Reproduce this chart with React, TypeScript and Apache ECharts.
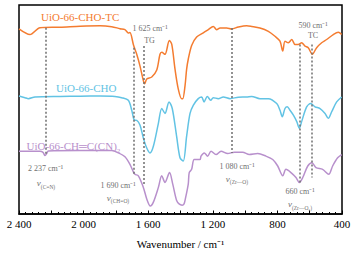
import React, { useEffect, useRef } from "react";
import * as echarts from "echarts";

// Wavenumber (cm-1) and relative transmittance (arbitrary units)
const tcWn = [2400, 2332, 2270, 2146, 2022, 1898, 1826, 1775, 1744, 1723, 1713, 1692, 1682, 1671, 1651, 1630, 1622, 1609, 1578, 1547, 1527, 1516, 1496, 1469, 1454, 1434, 1414, 1393, 1386, 1372, 1362, 1352, 1331, 1300, 1259, 1228, 1197, 1176, 1155, 1114, 1083, 1042, 990, 959, 908, 856, 815, 784, 767, 753, 732, 711, 691, 671, 650, 629, 609, 584, 557, 526, 495, 454, 423, 402];
const tcVal = [187.7, 182, 189, 189.5, 190.5, 191, 190, 188, 187, 183.7, 184, 172, 167, 162, 150.3, 135.3, 132, 137, 139, 146, 162, 164, 162, 176, 172, 147, 127, 117, 117, 130, 147, 157, 171, 179.5, 183.7, 187, 190.3, 187, 188.7, 188.7, 187.7, 189.7, 191, 190.3, 188.7, 185.3, 180.3, 175.3, 165.3, 175.3, 173.7, 177, 172, 172, 173.7, 170.3, 168.7, 162, 168.7, 173.7, 177, 182, 184.3, 182];

const choWn = [2400, 2363, 2342, 2301, 2146, 2022, 1898, 1806, 1764, 1723, 1702, 1686, 1671, 1651, 1630, 1609, 1589, 1568, 1537, 1516, 1496, 1471, 1451, 1424, 1403, 1383, 1362, 1341, 1321, 1290, 1269, 1254, 1234, 1213, 1197, 1166, 1135, 1093, 1042, 990, 959, 908, 856, 804, 784, 770, 753, 739, 722, 701, 680, 664, 650, 619, 594, 567, 536, 505, 485, 464, 433, 402];
const choVal = [119.7, 118, 117, 118.7, 119.3, 119.5, 119.7, 119.3, 118, 115.3, 105.3, 95.3, 95, 90.3, 77, 67, 62, 68.7, 92, 107, 102, 113.7, 107, 78.7, 57, 53.7, 79, 102, 110.3, 117, 118.7, 113.7, 119.3, 115.3, 118, 117, 118.7, 117, 118.5, 118.7, 119.3, 117, 117, 112, 105.3, 98.7, 107, 108.7, 105.3, 100.3, 93.7, 87, 93.7, 108.7, 112, 108.7, 107, 102, 97, 103.7, 113.7, 118.7];

const cnWn = [2400, 2270, 2251, 2239, 2226, 2219, 2022, 1826, 1785, 1744, 1713, 1692, 1682, 1661, 1630, 1609, 1587, 1568, 1537, 1516, 1496, 1468, 1448, 1424, 1407, 1390, 1378, 1370, 1352, 1346, 1331, 1315, 1279, 1273, 1253, 1232, 1211, 1180, 1149, 1108, 1067, 1015, 974, 922, 871, 829, 798, 767, 747, 716, 685, 664, 643, 612, 586, 561, 520, 482, 458, 427, 402];
const cnVal = [63.7, 63.7, 62.5, 59.3, 62, 64, 64.5, 64.3, 62, 58, 50.3, 42.7, 40.3, 38.7, 27, 15.3, 8, 12, 27, 38.7, 32, 42, 30.3, 13.7, 10, 9, 10.3, 15.3, 30.3, 42, 45.3, 55.3, 55.3, 58.7, 62, 58.7, 63.7, 60.3, 63.7, 61.3, 62.7, 62.7, 60.3, 61.3, 58.7, 55.3, 48.7, 38.7, 45.3, 42, 37, 32, 37, 48.7, 52, 47, 45.3, 40.3, 48.7, 57, 60.3];

// Marked bands: wavenumber, top and bottom of the dotted guide
const guideWn = [2237, 1690, 1625, 1080, 660, 590];
const guideTop = [189, 168.7, 170.5, 188.7, 172, 172];
const guideBottom = [59, 40.3, 29, 62, 32, 37];

const xTickLabels = [400, 800, 1200, 1600, 2000, 2400];

const SERIF = "'Liberation Serif', 'Times New Roman', serif";
const ORANGE = "#f47c30";
const BLUE = "#62c3e4";
const PURPLE = "#b890cc";
const GRAY = "#6f6f6f";

const fmt = (v: number) => {
  const s = String(Math.round(v));
  return s.length > 3 ? s.slice(0, s.length - 3) + " " + s.slice(-3) : s;
};

const pairs = (xs: number[], ys: number[]) => xs.map((x, i) => [x, ys[i]]);

export default function App() {
  const ref = useRef<HTMLDivElement>(null);
  useEffect(() => {
    if (!ref.current) return;
    const chart = echarts.init(ref.current, null, { renderer: "svg" });

    const gtext = (text: string, x: number, y: number, size: number, color: string, align = "center", extra: any = {}) => ({
      type: "text",
      x,
      y,
      style: {
        text,
        fontFamily: SERIF,
        fontSize: size,
        fill: color,
        align,
        verticalAlign: "middle",
        ...extra,
      },
    });
    const nu = (sub: string, x: number, y: number) => ({
      type: "text",
      x,
      y,
      style: {
        text: "{a|ν}{b|" + sub + "}",
        fontFamily: SERIF,
        fill: GRAY,
        align: "center",
        verticalAlign: "middle",
        rich: {
          a: { fontSize: 9, fontStyle: "italic", fontFamily: SERIF, fill: GRAY, verticalAlign: "bottom" },
          b: { fontSize: 5.5, fontFamily: SERIF, fill: GRAY, verticalAlign: "bottom", padding: [0, 0, -2, 0] },
        },
      },
    });

    const option: any = {
      animation: false,
      grid: {
        left: 19,
        right: 14,
        top: 5,
        bottom: 37,
        show: true,
        borderColor: "#000",
        borderWidth: 1.5,
      },
      xAxis: {
        type: "value",
        min: 400,
        max: 2400,
        interval: 200,
        inverse: true,
        name: "Wavenumber / cm⁻¹",
        nameLocation: "middle",
        nameGap: 24,
        nameTextStyle: { fontFamily: SERIF, fontSize: 11, color: "#000" },
        axisLine: { show: true, lineStyle: { color: "#000", width: 1.5 } },
        axisTick: { show: true, inside: true, length: 3.5, lineStyle: { color: "#000", width: 1 } },
        minorTick: { show: true, splitNumber: 5, length: 2, lineStyle: { color: "#000", width: 1 } },
        splitLine: { show: false },
        axisLabel: {
          margin: 4,
          fontFamily: SERIF,
          fontSize: 11,
          color: "#000",
          formatter: (v: number) => (xTickLabels.includes(v) ? fmt(v) : ""),
        },
      },
      yAxis: {
        type: "value",
        min: 0,
        max: 212,
        show: false,
      },
      series: [
        {
          type: "line",
          data: pairs(tcWn, tcVal),
          showSymbol: false,
          smooth: 0.3,
          lineStyle: { color: ORANGE, width: 1.5 },
          z: 3,
        },
        {
          type: "line",
          data: pairs(choWn, choVal),
          showSymbol: false,
          smooth: 0.3,
          lineStyle: { color: BLUE, width: 1.5 },
          z: 3,
        },
        {
          type: "line",
          data: pairs(cnWn, cnVal),
          showSymbol: false,
          smooth: 0.3,
          lineStyle: { color: PURPLE, width: 1.5 },
          z: 3,
          markLine: {
            silent: true,
            symbol: "none",
            label: { show: false },
            lineStyle: { color: GRAY, width: 1.5, type: [2, 2] },
            data: guideWn.map((w, i) => [
              { coord: [w, guideTop[i]] },
              { coord: [w, guideBottom[i]] },
            ]),
          },
        },
      ],
      graphic: [
        gtext("UiO-66-CHO-TC", 41, 16.7, 11, ORANGE, "left"),
        gtext("UiO-66-CHO", 56, 88, 11, BLUE, "left"),
        {
          type: "text",
          x: 26.5,
          y: 146,
          style: {
            text: "{a|UiO-66-CH═C(CN)}{b|2}",
            fontFamily: SERIF,
            fill: PURPLE,
            align: "left",
            verticalAlign: "middle",
            rich: {
              a: { fontSize: 11, fontFamily: SERIF, fill: PURPLE, verticalAlign: "bottom" },
              b: { fontSize: 7, fontFamily: SERIF, fill: PURPLE, verticalAlign: "bottom", padding: [0, 0, -3, 0] },
            },
          },
        },
        gtext("1 625 cm⁻¹", 150, 28.5, 8, GRAY),
        gtext("TG", 149.5, 40, 8, GRAY),
        gtext("590 cm⁻¹", 313, 25, 8, GRAY),
        gtext("TC", 313, 35.5, 8, GRAY),
        gtext("2 237 cm⁻¹", 45.5, 168, 8, GRAY),
        nu("(C≡N)", 46, 183),
        gtext("1 690 cm⁻¹", 118, 185.5, 8, GRAY),
        nu("(CH=O)", 118, 197.5),
        gtext("1 080 cm⁻¹", 237, 166.5, 8, GRAY),
        nu("(Zr—O)", 237, 178.5),
        gtext("660 cm⁻¹", 300, 191, 8, GRAY),
        nu("(Zr—O₂)", 300, 204),
      ],
    };
    chart.setOption(option);
    return () => chart.dispose();
  }, []);
  return <div ref={ref} style={{ width: 356, height: 254, position: "absolute", left: 0, top: 0 }} />;
}
